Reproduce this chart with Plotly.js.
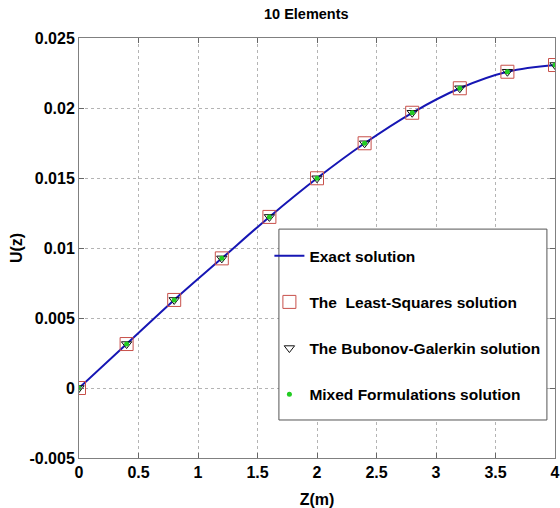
<!DOCTYPE html>
<html>
<head>
<meta charset="utf-8">
<script src="https://cdn.plot.ly/plotly-3.0.1.min.js"></script>
<style>html,body{margin:0;padding:0;background:#fff;}#chart{width:560px;height:508px;}</style>
</head>
<body>
<div id="chart"></div>
<script>
const zNodes = [0, 0.4, 0.8, 1.2, 1.6, 2.0, 2.4, 2.8, 3.2, 3.6, 4.0];
const exactU = [0, 0.00314, 0.00629, 0.00926, 0.01222, 0.01498, 0.01748, 0.01966, 0.02141, 0.02259, 0.02307];
const leastSquaresU = [0, 0.00314, 0.00629, 0.00926, 0.01222, 0.01498, 0.01748, 0.01966, 0.02141, 0.02259, 0.02307];
const galerkinU = [0, 0.00314, 0.00629, 0.00926, 0.01222, 0.01498, 0.01748, 0.01966, 0.02141, 0.02259, 0.02307];
const mixedU = [0, 0.00314, 0.00629, 0.00926, 0.01222, 0.01498, 0.01748, 0.01966, 0.02141, 0.02259, 0.02307];
const seriesNames = ["Exact solution", "The  Least-Squares solution", "The Bubonov-Galerkin solution", "Mixed Formulations solution"];
const xTickVals = [0, 0.5, 1, 1.5, 2, 2.5, 3, 3.5, 4];
const xTickText = ["0", "0.5", "1", "1.5", "2", "2.5", "3", "3.5", "4"];
const yTickVals = [-0.005, 0, 0.005, 0.01, 0.015, 0.02, 0.025];
const yTickText = ["-0.005", "0", "0.005", "0.01", "0.015", "0.02", "0.025"];

const FONT = "'Liberation Sans', Arial, sans-serif";

const traces = [
  {x: zNodes, y: exactU, name: seriesNames[0], mode: 'lines', legendgroup: 'a',
   line: {color: '#1616b4', width: 2, shape: 'spline'}},
  {x: zNodes, y: leastSquaresU, name: seriesNames[1], mode: 'markers', legendgroup: 'b',
   marker: {symbol: 'square-open', size: 13, color: '#c8504a', line: {width: 1}}},
  {x: zNodes, y: galerkinU, name: seriesNames[2], mode: 'markers', legendgroup: 'c',
   marker: {symbol: 'triangle-down-open', size: 9, color: '#111111', line: {width: 1}}},
  {x: zNodes, y: mixedU, name: seriesNames[3], mode: 'markers', legendgroup: 'd',
   marker: {symbol: 'circle', size: 5, color: '#22cc22'}}
];

const axisCommon = {
  showline: true, linecolor: '#808080', linewidth: 1, mirror: 'allticks',
  ticks: 'inside', ticklen: 5, tickcolor: '#666',
  showgrid: true, gridcolor: '#b4b4b4', griddash: 'dot', gridwidth: 1,
  zeroline: false,
  tickfont: {family: FONT, size: 16, color: '#000', weight: 'bold'}
};

const layout = {
  width: 560, height: 508,
  margin: {l: 79, r: 5, t: 38, b: 50},
  paper_bgcolor: '#fff', plot_bgcolor: '#fff',
  title: {text: '<b>10 Elements</b>', x: 0.547, xanchor: 'center', y: 0.972, yanchor: 'middle',
          font: {family: FONT, size: 14.5, color: '#000'}},
  xaxis: Object.assign({}, axisCommon, {
    automargin: false,
    range: [0, 4], tickvals: xTickVals, ticktext: xTickText,
    title: {text: '<b>Z(m)</b>', font: {family: FONT, size: 16, color: '#000'}}
  }),
  yaxis: Object.assign({}, axisCommon, {
    automargin: 'left',
    range: [-0.005, 0.025], tickvals: yTickVals, ticktext: yTickText,
    title: {text: '<b>U(z)</b>', standoff: 2, font: {family: FONT, size: 16, color: '#000'}}
  }),
  shapes: [{
    type: 'rect', xref: 'paper', yref: 'paper', layer: 'above',
    x0: 0.42, x1: 0.983, y0: 0.0905, y1: 0.545,
    line: {color: '#555', width: 1}, fillcolor: '#fff'
  }],
  showlegend: true,
  legend: {
    x: 0.40, y: 0.521, xanchor: 'left', yanchor: 'top',
    bgcolor: 'rgba(0,0,0,0)', borderwidth: 0,
    traceorder: 'grouped', tracegroupgap: 23,
    font: {family: FONT, size: 15.5, color: '#000', weight: 'bold'}
  }
};

Plotly.newPlot('chart', traces, layout, {displayModeBar: false, staticPlot: true});
</script>
</body>
</html>
